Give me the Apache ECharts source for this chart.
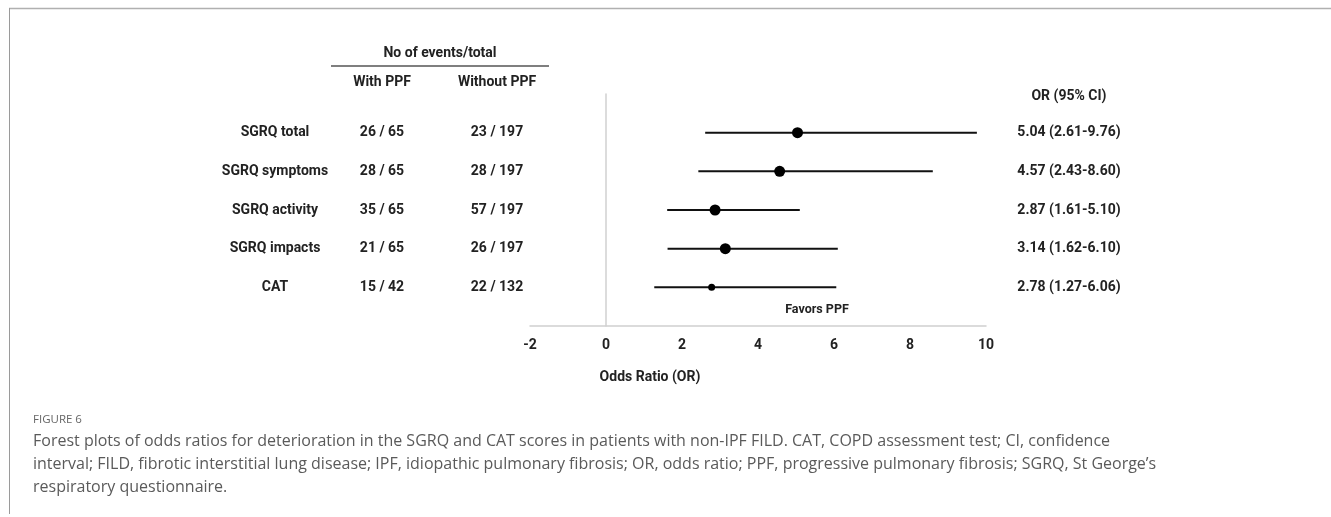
<!DOCTYPE html>
<html>
<head>
<meta charset="utf-8">
<title>Forest plot - FIGURE 6</title>
<script src="https://cdn.jsdelivr.net/npm/echarts@6/dist/echarts.min.js"></script>
<style>
  html, body { margin: 0; padding: 0; background: #fff; }
  #chart { width: 1331px; height: 517px; }
</style>
</head>
<body>
<div id="chart"></div>
<script>
// 数据
var labels = ['SGRQ total', 'SGRQ symptoms', 'SGRQ activity', 'SGRQ impacts', 'CAT'];
var withPPF = ['26 / 65', '28 / 65', '35 / 65', '21 / 65', '15 / 42'];
var withoutPPF = ['23 / 197', '28 / 197', '57 / 197', '26 / 197', '22 / 132'];
var orValue = [5.04, 4.57, 2.87, 3.14, 2.78];
var ciLow = [2.61, 2.43, 1.61, 1.62, 1.27];
var ciHigh = [9.76, 8.60, 5.10, 6.10, 6.06];
var markerSize = [11, 11, 11, 11, 7];
var xTicks = [-2, 0, 2, 4, 6, 8, 10];

var orText = orValue.map(function (v, i) {
    return v.toFixed(2) + ' (' + ciLow[i].toFixed(2) + '-' + ciHigh[i].toFixed(2) + ')';
});

// 行位置 1..5，上下各留一格
function rowCats(arr) {
    return [''].concat(arr).concat(['']);
}

var txt = { fontFamily: 'Roboto', fontWeight: 'bold', fontSize: 14, color: '#222' };
var boldFont = 'bold 14px Roboto';

function textAxis(data, pos, offset) {
    return {
        type: 'category',
        data: rowCats(data),
        boundaryGap: false,
        inverse: true,
        position: pos,
        offset: offset,
        axisLine: { show: false, onZero: false },
        axisTick: { show: false },
        splitLine: { show: false },
        axisLabel: {
            show: true, interval: 0, margin: 0, align: 'center',
            fontFamily: txt.fontFamily, fontWeight: txt.fontWeight,
            fontSize: txt.fontSize, color: txt.color
        }
    };
}

var myChart = echarts.init(document.getElementById('chart'));

var option = {
    animation: false,
    backgroundColor: '#fff',
    grid: { left: 530, right: 345, top: 94, height: 232 },
    xAxis: {
        type: 'value',
        min: xTicks[0],
        max: xTicks[xTicks.length - 1],
        interval: 2,
        axisLine: { show: true, onZero: false, lineStyle: { color: '#d0d0d0', width: 1.5 } },
        axisTick: { show: false },
        splitLine: { show: false },
        axisLabel: {
            margin: 12,
            fontFamily: txt.fontFamily, fontWeight: txt.fontWeight,
            fontSize: txt.fontSize, color: txt.color
        }
    },
    yAxis: [
        {
            // 主轴：x=0 处的竖线
            type: 'value',
            min: 0,
            max: 6,
            inverse: true,
            axisLine: { show: true, onZero: true, lineStyle: { color: '#d0d0d0', width: 1.5 } },
            axisTick: { show: false },
            axisLabel: { show: false },
            splitLine: { show: false }
        },
        textAxis(labels, 'left', 255),
        textAxis(withPPF, 'left', 148),
        textAxis(withoutPPF, 'left', 33),
        textAxis(orText, 'right', 83)
    ],
    graphic: [
        // 外框
        { type: 'line', shape: { x1: 9, y1: 8.5, x2: 1331, y2: 8.5 }, style: { stroke: '#b0b0b0', lineWidth: 1.5 } },
        { type: 'line', shape: { x1: 9.5, y1: 8, x2: 9.5, y2: 514 }, style: { stroke: '#9a9a9a', lineWidth: 1 } },
        // 表头
        { type: 'text', x: 440, y: 53, style: { text: 'No of events/total', align: 'center', verticalAlign: 'middle', font: boldFont, fill: '#222' } },
        { type: 'line', shape: { x1: 331, y1: 66, x2: 549, y2: 66 }, style: { stroke: '#555', lineWidth: 1.5 } },
        { type: 'text', x: 382, y: 82, style: { text: 'With PPF', align: 'center', verticalAlign: 'middle', font: boldFont, fill: '#222' } },
        { type: 'text', x: 497, y: 82, style: { text: 'Without PPF', align: 'center', verticalAlign: 'middle', font: boldFont, fill: '#222' } },
        { type: 'text', x: 1069, y: 96, style: { text: 'OR (95% CI)', align: 'center', verticalAlign: 'middle', font: boldFont, fill: '#222' } },
        { type: 'text', x: 817, y: 310, style: { text: 'Favors PPF', align: 'center', verticalAlign: 'middle', font: 'bold 12.5px Roboto', fill: '#222' } },
        { type: 'text', x: 650, y: 377, style: { text: 'Odds Ratio (OR)', align: 'center', verticalAlign: 'middle', font: boldFont, fill: '#222' } },
        // 图注
        { type: 'text', x: 33, y: 420, style: { text: 'FIGURE 6', verticalAlign: 'middle', font: '11.5px "Open Sans"', fill: '#666' } },
        { type: 'text', x: 33, y: 441, style: { text: 'Forest plots of odds ratios for deterioration in the SGRQ and CAT scores in patients with non-IPF FILD. CAT, COPD assessment test; CI, confidence', verticalAlign: 'middle', font: '16px "Open Sans"', fill: '#5a5a5a' } },
        { type: 'text', x: 33, y: 464, style: { text: 'interval; FILD, fibrotic interstitial lung disease; IPF, idiopathic pulmonary fibrosis; OR, odds ratio; PPF, progressive pulmonary fibrosis; SGRQ, St George\u2019s', verticalAlign: 'middle', font: '16px "Open Sans"', fill: '#5a5a5a' } },
        { type: 'text', x: 33, y: 487, style: { text: 'respiratory questionnaire.', verticalAlign: 'middle', font: '16px "Open Sans"', fill: '#5a5a5a' } }
    ],
    series: [
        {
            // 置信区间
            type: 'custom',
            yAxisIndex: 0,
            data: ciLow.map(function (lo, i) { return [lo, ciHigh[i], i + 1]; }),
            renderItem: function (params, api) {
                var p1 = api.coord([api.value(0), api.value(2)]);
                var p2 = api.coord([api.value(1), api.value(2)]);
                return {
                    type: 'line',
                    shape: { x1: p1[0], y1: p1[1], x2: p2[0], y2: p2[1] },
                    style: { stroke: '#111', lineWidth: 2 }
                };
            },
            z: 2
        },
        {
            type: 'scatter',
            yAxisIndex: 0,
            data: orValue.map(function (v, i) {
                return { value: [v, i + 1], symbolSize: markerSize[i] };
            }),
            itemStyle: { color: '#000', opacity: 1 },
            z: 3
        }
    ]
};
myChart.setOption(option);
</script>
</body>
</html>
